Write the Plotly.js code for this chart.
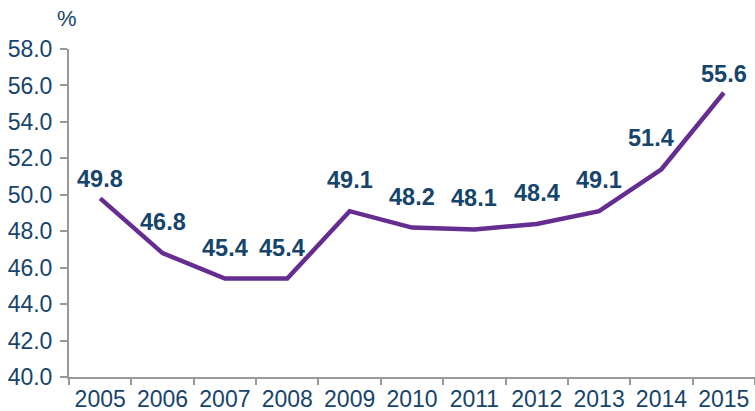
<!DOCTYPE html>
<html>
<head>
<meta charset="utf-8">
<script src="https://cdn.plot.ly/plotly-3.0.1.min.js"></script>
<style>html,body{margin:0;padding:0;background:#fff;}#chart{width:755px;height:411px;}</style>
</head>
<body>
<div id="chart"></div>
<script>
var years = ["2005","2006","2007","2008","2009","2010","2011","2012","2013","2014","2015"];
var values = [49.8, 46.8, 45.4, 45.4, 49.1, 48.2, 48.1, 48.4, 49.1, 51.4, 55.6];
var yTickVals = [40, 42, 44, 46, 48, 50, 52, 54, 56, 58];

var textColor = "#17446b";
var fontFam = "Liberation Sans, Arial, sans-serif";

var annotations = values.map(function(v, i) {
  var edge = (i === 0 || i === values.length - 1);
  var dx = 0;
  if (i === 9) dx = -10;
  if (i === 3) dx = -5;
  return {
    x: i, y: v, xref: "x", yref: "y",
    text: "<b>" + v.toFixed(1) + "</b>", showarrow: false,
    xanchor: "center", yanchor: "middle", yshift: edge ? 19 : 31,
    xshift: dx,
    font: {family: fontFam, size: 23.5, color: textColor}
  };
});
annotations.push({
  x: (67 - 69) / 686, y: 1 + (49 - 18) / 328, xref: "paper", yref: "paper",
  xanchor: "center", yanchor: "middle",
  text: "%", showarrow: false,
  font: {family: fontFam, size: 22, color: textColor}
});

var trace = {
  x: years, y: values, type: "scatter", mode: "lines",
  line: {color: "#662d91", width: 4.5},
  hoverinfo: "skip"
};

var layout = {
  width: 755, height: 411,
  margin: {l: 69, r: 0, t: 49, b: 34},
  paper_bgcolor: "#fff", plot_bgcolor: "#fff",
  showlegend: false,
  font: {family: fontFam, color: textColor},
  xaxis: {
    type: "category", range: [-0.5, 10.5],
    showline: true, linecolor: "#999", linewidth: 2,
    ticks: "outside", tickson: "boundaries", ticklen: 6, tickwidth: 2, tickcolor: "#999",
    showgrid: false, zeroline: false,
    tickfont: {family: fontFam, size: 23, color: textColor}
  },
  yaxis: {
    range: [40, 58], tickvals: yTickVals,
    ticktext: yTickVals.map(function(v){return v.toFixed(1);}),
    showline: true, linecolor: "#999", linewidth: 2,
    ticks: "outside", ticklen: 7, tickwidth: 2, tickcolor: "#999",
    showgrid: false, zeroline: false, ticklabelstandoff: 3,
    tickfont: {family: fontFam, size: 23, color: textColor}
  },
  annotations: annotations
};

Plotly.newPlot("chart", [trace], layout, {displayModeBar: false, staticPlot: true});
</script>
</body>
</html>
